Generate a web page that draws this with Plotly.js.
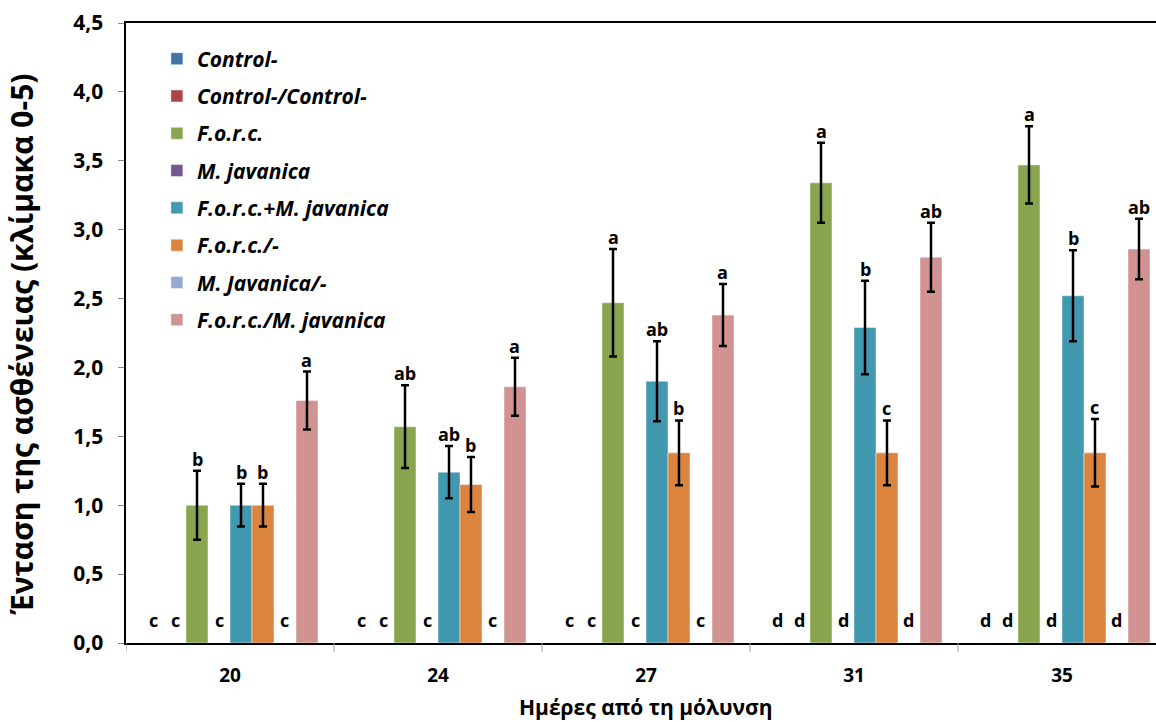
<!DOCTYPE html>
<html>
<head>
<meta charset="utf-8">
<script src="https://cdn.plot.ly/plotly-3.0.1.min.js"></script>
<style>html,body{margin:0;padding:0;background:#fff;}#chart{width:1156px;height:722px;}</style>
</head>
<body>
<div id="chart"></div>
<script>
// ---- data ----
const days = ['20', '24', '27', '31', '35'];

const seriesNames = ['Control-', 'Control-/Control-', 'F.o.r.c.', 'M. javanica',
  'F.o.r.c.+M. javanica', 'F.o.r.c./-', 'M. Javanica/-', 'F.o.r.c./M. javanica'];
const seriesColors = ['#4572A7', '#AA4643', '#89A54E', '#71588F',
  '#4198AF', '#DB843D', '#93A9CF', '#D19392'];

const controlNeg      = [0, 0, 0, 0, 0];
const controlControl  = [0, 0, 0, 0, 0];
const forc            = [1.00, 1.57, 2.47, 3.34, 3.47];
const mJavanica       = [0, 0, 0, 0, 0];
const forcPlusMj      = [1.00, 1.24, 1.90, 2.29, 2.52];
const forcDash        = [1.00, 1.15, 1.38, 1.38, 1.38];
const mJavanicaDash   = [0, 0, 0, 0, 0];
const forcSlashMj     = [1.76, 1.86, 2.38, 2.80, 2.86];

const forcErr         = [0.25, 0.30, 0.39, 0.29, 0.28];
const forcPlusMjErr   = [0.155, 0.19, 0.29, 0.34, 0.33];
const forcDashErr     = [0.155, 0.20, 0.235, 0.235, 0.245];
const forcSlashMjErr  = [0.21, 0.21, 0.225, 0.25, 0.22];

const zeroLetters        = ['c', 'c', 'c', 'd', 'd'];
const forcLetters        = ['b', 'ab', 'a', 'a', 'a'];
const forcPlusMjLetters  = ['b', 'ab', 'ab', 'b', 'b'];
const forcDashLetters    = ['b', 'b', 'b', 'c', 'c'];
const forcSlashMjLetters = ['a', 'a', 'a', 'ab', 'ab'];

const seriesValues  = [controlNeg, controlControl, forc, mJavanica, forcPlusMj, forcDash, mJavanicaDash, forcSlashMj];
const seriesErrors  = [null, null, forcErr, null, forcPlusMjErr, forcDashErr, null, forcSlashMjErr];
const seriesLetters = [zeroLetters, zeroLetters, forcLetters, zeroLetters, forcPlusMjLetters, forcDashLetters, zeroLetters, forcSlashMjLetters];

// ---- chart ----
const FONT = '"Open Sans", "Noto Sans", sans-serif';
const bargap = 0.154;
const nSeries = seriesValues.length;
const slot = (1 - bargap) / nSeries;

const traces = seriesValues.map((vals, i) => {
  const t = {
    type: 'bar',
    name: seriesNames[i],
    x: days.map((d, k) => k),
    y: vals,
    legendgroup: 'g' + i,
    marker: {color: seriesColors[i], line: {color: 'rgba(255,255,255,0.45)', width: 1}},
    hoverinfo: 'skip'
  };
  if (seriesErrors[i]) {
    t.error_y = {type: 'data', array: seriesErrors[i], visible: true, color: '#000', thickness: 2.5, width: 4};
  }
  return t;
});

const annotations = [];
seriesValues.forEach((vals, i) => {
  vals.forEach((v, k) => {
    const err = seriesErrors[i] ? seriesErrors[i][k] : 0;
    annotations.push({
      xref: 'x', yref: 'y',
      x: k + (i - (nSeries - 1) / 2) * slot,
      y: v + err,
      text: seriesLetters[i][k],
      showarrow: false,
      xanchor: 'center', yanchor: 'bottom',
      yshift: v > 0 ? -2 : 9,
      font: {family: FONT, size: 18, weight: 'bold', color: '#000'}
    });
  });
});

annotations.push({
  xref: 'paper', yref: 'paper', x: -0.101, y: 0.483,
  text: 'Ένταση της ασθένειας (κλίμακα 0-5)', textangle: -90,
  showarrow: false, xanchor: 'center', yanchor: 'middle',
  font: {family: FONT, size: 30, weight: 'bold', color: '#000'}
});
annotations.push({
  xref: 'x', yref: 'paper', x: 2, y: -0.104,
  text: 'Ημέρες από τη μόλυνση', showarrow: false,
  xanchor: 'center', yanchor: 'middle',
  font: {family: FONT, size: 21, weight: 'bold', color: '#000'}
});

const layout = {
  width: 1156, height: 722,
  margin: {l: 126, r: 0, t: 23, b: 79, pad: 0},
  paper_bgcolor: '#fff', plot_bgcolor: '#fff',
  separators: ',.',
  barmode: 'group', bargap: bargap, bargroupgap: 0,
  showlegend: true,
  legend: {
    x: 0.030, y: 0.975, xanchor: 'left', yanchor: 'top',
    traceorder: 'grouped', tracegroupgap: 7,
    bgcolor: 'rgba(0,0,0,0)',
    font: {family: FONT, size: 21, weight: 'bold', style: 'italic', color: '#000'},
    itemwidth: 30
  },
  xaxis: {
    type: 'linear',
    range: [-0.5, -0.5 + 1030 / 208],
    tickmode: 'array', tickvals: days.map((d, k) => k), ticktext: days,
    showgrid: false, zeroline: false,
    showline: true, linecolor: '#000', linewidth: 2, mirror: true,
    ticks: '', ticklabelstandoff: 14,
    tickfont: {family: FONT, size: 19, weight: 'bold', color: '#000'}
  },
  yaxis: {
    range: [0, 4.5], dtick: 0.5, tick0: 0, tickformat: '.1f',
    showgrid: false, zeroline: false,
    showline: true, linecolor: '#000', linewidth: 2.5,
    ticks: 'outside', ticklen: 6, tickcolor: '#888', tickwidth: 1,
    ticklabelstandoff: 10,
    tickfont: {family: FONT, size: 21, weight: 'bold', color: '#000'}
  },
  shapes: [0, 1, 2, 3, 4, 5].map(k => ({
    type: 'line', xref: 'x', yref: 'paper', x0: k - 0.5, x1: k - 0.5, y0: 0, y1: -0.014,
    line: {color: '#999', width: 1}
  })),
  annotations: annotations
};

Plotly.newPlot('chart', traces, layout, {displayModeBar: false, staticPlot: true});
</script>
</body>
</html>
